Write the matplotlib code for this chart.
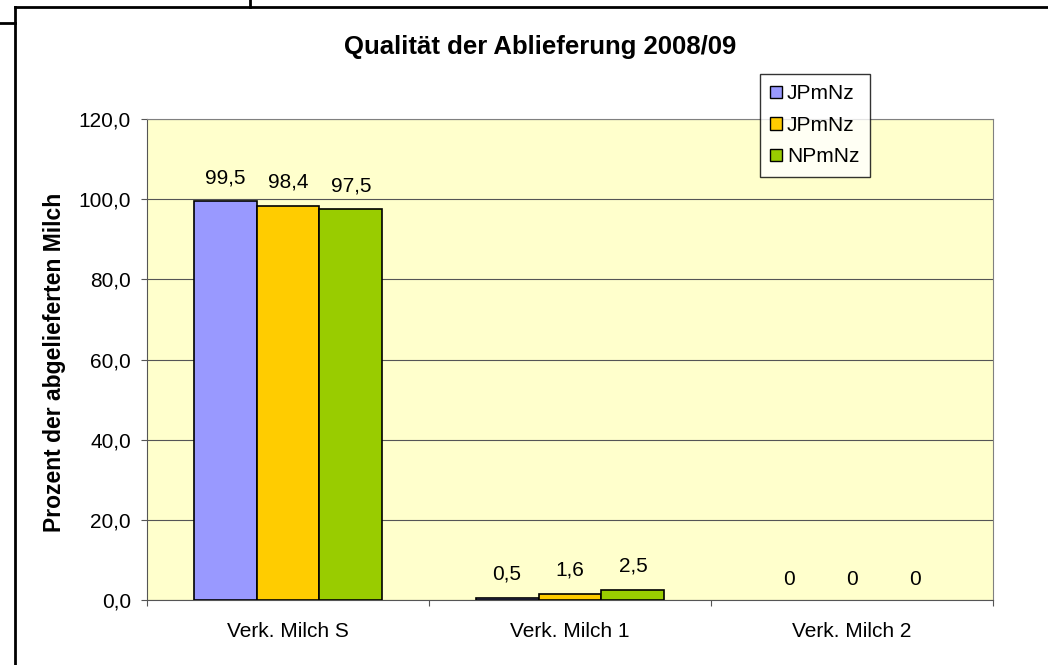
import matplotlib.pyplot as plt
import numpy as np
from matplotlib.lines import Line2D

plt.rcParams['font.family'] = ['Liberation Sans', 'DejaVu Sans']

categories = ["Verk. Milch S", "Verk. Milch 1", "Verk. Milch 2"]
series_names = ["JPmNz", "JPmNz", "NPmNz"]
values_a = [99.5, 0.5, 0]
values_b = [98.4, 1.6, 0]
values_c = [97.5, 2.5, 0]
labels_a = ["99,5", "0,5", "0"]
labels_b = ["98,4", "1,6", "0"]
labels_c = ["97,5", "2,5", "0"]
colors = ["#9999FF", "#FFCC00", "#99CC00"]

W, H = 1048, 665
fig = plt.figure(figsize=(W / 100, H / 100), dpi=100)
ax = fig.add_axes([147 / W, 1 - 600 / H, (993 - 147) / W, (600 - 119) / H])
ax.set_facecolor("#FFFFCC")

x = np.arange(len(categories))
w = 0.223
for i, (vals, labs) in enumerate(zip([values_a, values_b, values_c], [labels_a, labels_b, labels_c])):
    pos = x + (i - 1) * w
    bars = ax.bar(pos, vals, width=w, color=colors[i], edgecolor="black", linewidth=1.2,
                  label=series_names[i], zorder=3)
    for b, v in zip(bars, vals):
        if v == 0:
            b.set_linewidth(0)
    for p, v, l in zip(pos, vals, labs):
        off = 13 if v > 0 else 11
        ax.annotate(l, (p, v), xytext=(0, off), textcoords="offset points",
                    ha="center", va="baseline", fontsize=15)

ax.set_xlim(-0.5, 2.5)
ax.set_ylim(0, 120)
ax.set_yticks(np.arange(0, 121, 20))
ax.set_yticklabels([f"{v:.1f}".replace(".", ",") for v in np.arange(0, 121, 20)], fontsize=15)
ax.yaxis.grid(True, color="#555555", linewidth=0.8, zorder=0)
ax.set_xticks([-0.5, 0.5, 1.5, 2.5], minor=False)
ax.set_xticklabels([])
ax.set_xticks(x, minor=True)
ax.set_xticklabels(categories, minor=True, fontsize=15)
ax.tick_params(axis="x", which="minor", length=0, pad=16)
ax.tick_params(axis="x", which="major", length=4.5, direction="out", color="#555555")
ax.tick_params(axis="y", length=4.5, direction="out", color="#555555", pad=7)
for s in ["top", "right"]:
    ax.spines[s].set_color("#808080")
for s in ["left", "bottom"]:
    ax.spines[s].set_color("#555555")

fig.text(55 / W, 1 - 362 / H, "Prozent der abgelieferten Milch", rotation=90, ha="center", va="center",
         fontsize=16.5, fontweight="bold")
fig.text(540 / W, 1 - 47 / H, "Qualität der Ablieferung 2008/09", ha="center", va="center",
         fontsize=18.5, fontweight="bold")

leg = ax.legend(loc="upper left", bbox_to_anchor=(760 / W, 1 - 74 / H), bbox_transform=fig.transFigure,
                fontsize=15, frameon=True, fancybox=False, edgecolor="black", handlelength=0.55,
                handleheight=0.55, handletextpad=0.25, labelspacing=0.6, borderpad=0.5,
                borderaxespad=0)
leg.get_frame().set_linewidth(1.0)
for h in leg.legend_handles:
    h.set_linewidth(1.0)

# outer frame lines
fig.add_artist(Line2D([15 / W, 1], [1 - 7 / H, 1 - 7 / H], color="black", linewidth=2))
fig.add_artist(Line2D([15 / W, 15 / W], [0, 1 - 7 / H], color="black", linewidth=2))
fig.add_artist(Line2D([250 / W, 250 / W], [1 - 7 / H, 1], color="black", linewidth=2))
fig.add_artist(Line2D([0, 15 / W], [1 - 23 / H, 1 - 23 / H], color="black", linewidth=2))

fig.savefig("out.png", dpi=100)
